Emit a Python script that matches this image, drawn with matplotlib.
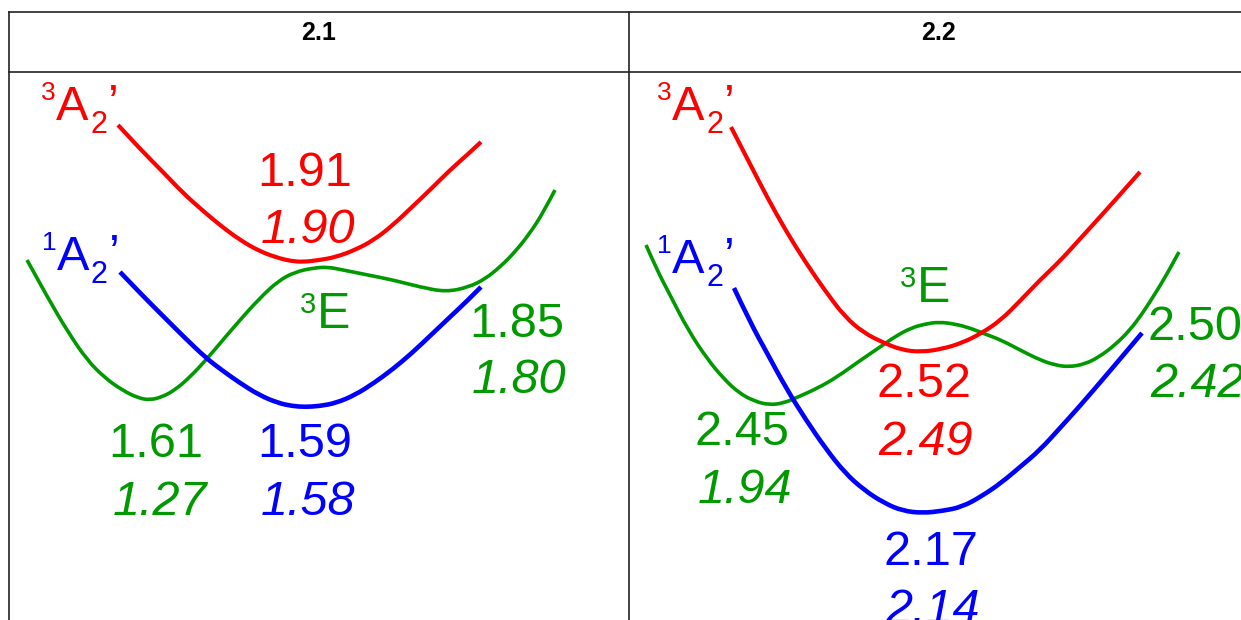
import matplotlib
matplotlib.use("Agg")
import matplotlib.pyplot as plt
from matplotlib.path import Path
from matplotlib.patches import PathPatch

# curve shapes (pixel coords, y downwards)
red21_x = [118, 141, 164, 183, 202, 221, 240, 259, 278, 291, 303, 320, 336, 355, 374, 393, 412, 431, 450, 466, 481]
red21_y = [125, 150, 173, 193, 210, 226, 240, 251, 258, 261, 262, 260, 257, 250, 240, 225, 207, 189, 170, 156, 142]
blue21_x = [120, 142, 164, 185, 206, 223, 240, 259, 278, 292, 305, 320, 336, 355, 374, 393, 412, 431, 450, 466, 481]
blue21_y = [272, 295, 317, 338, 358, 371, 383, 395, 403, 406, 407, 406, 403, 395, 383, 369, 353, 335, 317, 302, 287]
green21_x = [27, 49, 68, 87, 105, 122, 138, 150, 162, 175, 190, 206, 222, 240, 259, 278, 295, 313, 328, 343, 368, 393, 420, 446, 469, 485, 500, 515, 530, 543, 555]
green21_y = [260, 300, 332, 360, 378, 390, 398, 400, 397, 390, 377, 360, 341, 320, 299, 281, 272, 268, 267, 270, 275, 280, 287, 292, 287, 279, 267, 252, 233, 213, 190]

red22_x = [731, 749, 767, 786, 806, 826, 845, 864, 884, 902, 921, 942, 962, 982, 1001, 1020, 1040, 1060, 1079, 1110, 1140]
red22_y = [127, 162, 197, 231, 263, 292, 317, 333, 343, 350, 352, 349, 343, 333, 320, 301, 280, 261, 240, 206, 172]
blue22_x = [734, 750, 767, 786, 806, 826, 845, 864, 884, 903, 923, 942, 962, 982, 1001, 1020, 1040, 1060, 1079, 1110, 1142]
blue22_y = [288, 322, 353, 388, 420, 449, 473, 490, 503, 511, 513, 511, 507, 496, 483, 467, 450, 428, 407, 371, 333]
green22_x = [646, 657, 669, 688, 708, 724, 739, 754, 769, 784, 798, 818, 837, 858, 880, 896, 911, 925, 939, 955, 970, 985, 1001, 1020, 1040, 1055, 1069, 1085, 1099, 1115, 1130, 1142, 1153, 1166, 1179]
green22_y = [245, 270, 293, 330, 360, 379, 393, 401, 405, 403, 397, 388, 377, 362, 347, 336, 328, 324, 322, 324, 328, 334, 340, 350, 360, 365, 367, 364, 357, 345, 330, 314, 297, 276, 252]

headers = ["2.1", "2.2"]
vals21 = ["1.91", "1.90", "1.85", "1.80", "1.61", "1.27", "1.59", "1.58"]
vals22 = ["2.52", "2.49", "2.45", "1.94", "2.50", "2.42", "2.17", "2.14"]

RED, BLUE, GREEN = "#FF0000", "#0000FF", "#009900"
FONT = "Liberation Sans"

fig = plt.figure(figsize=(12.41, 6.2), dpi=100)
ax = fig.add_axes([0, 0, 1, 1])
ax.set_xlim(0, 1241)
ax.set_ylim(620, 0)
ax.axis("off")

# table frame
lc = "#222222"
ax.plot([9, 1260], [12, 12], color=lc, lw=1.2)
ax.plot([9, 1260], [72, 72], color=lc, lw=1.2)
ax.plot([9, 9], [12, 640], color=lc, lw=1.2)
ax.plot([629, 629], [12, 640], color=lc, lw=1.2)
for hx, h in zip([319, 938], headers):
    ax.text(hx, 40, h, ha="center", va="baseline", fontsize=18, fontweight="bold", family=FONT)


def smooth_curve(xs, ys, color, lw):
    # quadratic bezier path using the read points as control points
    pts = list(zip(xs, ys))
    verts = [pts[0]]
    codes = [Path.MOVETO]
    for i in range(1, len(pts) - 1):
        mid = ((pts[i][0] + pts[i + 1][0]) / 2, (pts[i][1] + pts[i + 1][1]) / 2)
        if i == len(pts) - 2:
            mid = pts[-1]
        verts += [pts[i], mid]
        codes += [Path.CURVE3, Path.CURVE3]
    ax.add_patch(PathPatch(Path(verts, codes), facecolor="none", edgecolor=color, lw=lw, capstyle="butt"))


for xs, ys, c, w in [(green21_x, green21_y, GREEN, 2.6), (red21_x, red21_y, RED, 3.0), (blue21_x, blue21_y, BLUE, 3.3),
                     (green22_x, green22_y, GREEN, 2.6), (red22_x, red22_y, RED, 3.0), (blue22_x, blue22_y, BLUE, 3.3)]:
    smooth_curve(xs, ys, c, w)


def state_label(x, b, sup, color):
    # superscript, A, subscript 2, prime
    ax.text(x - 16, b - 20, sup, color=color, fontsize=19, family=FONT, va="baseline")
    ax.text(x - 1, b, "A", color=color, fontsize=35, family=FONT, va="baseline")
    ax.text(x + 33, b + 13, "2", color=color, fontsize=22, family=FONT, va="baseline")
    ax.text(x + 50, b - 2, "\u2019", color=color, fontsize=35, family=FONT, va="baseline")


def e_label(x, b):
    ax.text(x - 17, b - 15, "3", color=GREEN, fontsize=21, family=FONT, va="baseline")
    ax.text(x, b, "E", color=GREEN, fontsize=36, family=FONT, va="baseline")


state_label(57, 120, "3", RED)
state_label(58, 270, "1", BLUE)
state_label(673, 120, "3", RED)
state_label(673, 273, "1", BLUE)
e_label(317, 328)
e_label(917, 302)

# energy values (upright / italic pairs)
pos21 = [(305, 186, RED), (308, 243, RED), (517, 337, GREEN), (519, 393, GREEN),
         (156, 457, GREEN), (160, 515, GREEN), (305, 457, BLUE), (308, 515, BLUE)]
for i, (t, (x, y, c)) in enumerate(zip(vals21, pos21)):
    ax.text(x, y, t, color=c, fontsize=35, family=FONT, ha="center", va="baseline",
            style="italic" if i % 2 else "normal")

pos22 = [(924, 397, RED, "center"), (926, 455, RED, "center"), (742, 445, GREEN, "center"),
         (745, 503, GREEN, "center"), (1148, 340, GREEN, "left"), (1150, 397, GREEN, "left"),
         (931, 565, BLUE, "center"), (933, 623, BLUE, "center")]
for i, (t, (x, y, c, ha)) in enumerate(zip(vals22, pos22)):
    ax.text(x, y, t, color=c, fontsize=35, family=FONT, ha=ha, va="baseline",
            style="italic" if i % 2 else "normal")

fig.savefig("out.png", dpi=100)
